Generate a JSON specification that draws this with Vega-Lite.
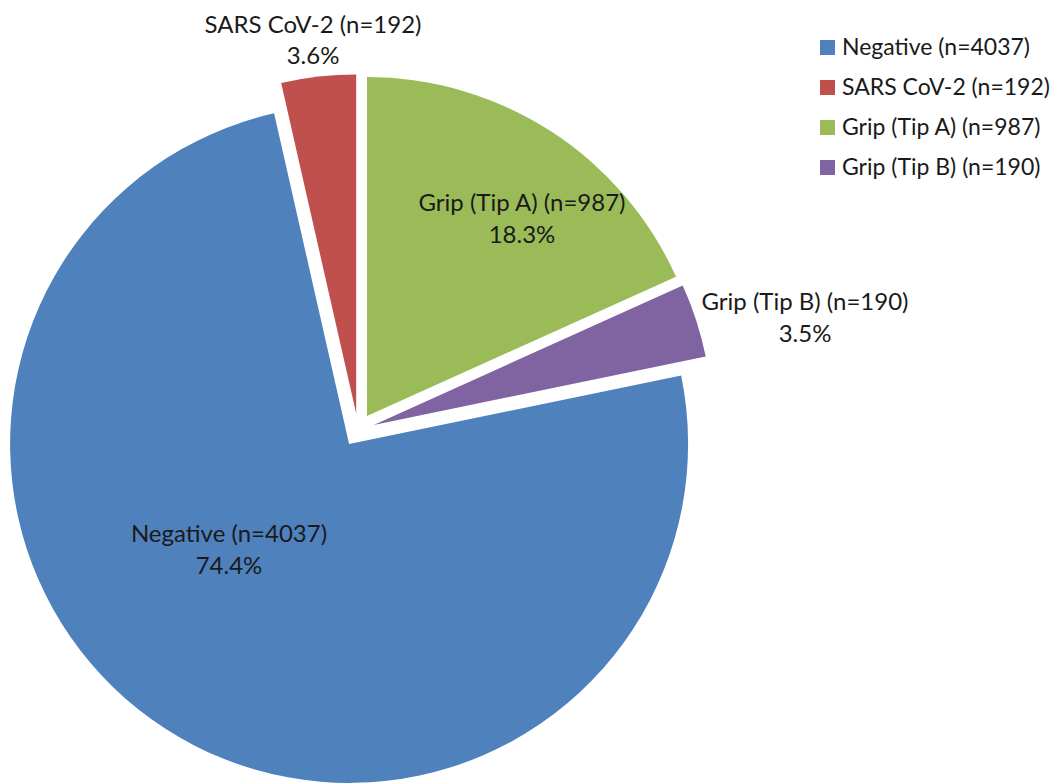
{
  "$schema": "https://vega.github.io/schema/vega-lite/v6.json",
  "width": 1060,
  "height": 783,
  "autosize": {"type": "fit", "contains": "padding"},
  "padding": 0,
  "background": "white",
  "config": {"view": {"stroke": null}, "font": "Lato"},
  "data": {
    "values": [
      {"cat": "Negative (n=4037)", "n": 4037, "lbl": "Negative (n=4037)\n74.4%"},
      {"cat": "SARS CoV-2 (n=192)", "n": 192, "lbl": "SARS CoV-2 (n=192)\n3.6%"},
      {"cat": "Grip (Tip A) (n=987)", "n": 987, "lbl": "Grip (Tip A) (n=987)\n18.3%"},
      {"cat": "Grip (Tip B) (n=190)", "n": 190, "lbl": "Grip (Tip B) (n=190)\n3.5%"}
    ]
  },
  "transform": [
    {"stack": "n", "groupby": [], "sort": [{"field": "cat", "order": "ascending"}], "as": ["t0", "t1"]}
  ],
  "encoding": {
    "theta": {"field": "t0", "type": "quantitative", "scale": {"domain": [0, 5406]}},
    "theta2": {"field": "t1"},
    "color": {
      "field": "cat",
      "type": "nominal",
      "scale": {
        "domain": ["Negative (n=4037)", "SARS CoV-2 (n=192)", "Grip (Tip A) (n=987)", "Grip (Tip B) (n=190)"],
        "range": ["#4F81BD", "#C0504D", "#9BBB59", "#8064A2"]
      },
      "legend": {
        "orient": "none",
        "legendX": 816,
        "legendY": 36,
        "title": null,
        "symbolType": "square",
        "symbolSize": 225,
        "symbolStrokeWidth": 0,
        "symbolOpacity": 1,
        "labelFontSize": 23,
        "labelFont": "Lato",
        "labelColor": "#1a1a1a",
        "rowPadding": 16,
        "labelOffset": 3,
        "padding": 0,
        "labelLimit": 400
      }
    }
  },
  "layer": [
    {
      "transform": [{"filter": "datum.cat == 'Negative (n=4037)'"}],
      "mark": {"type": "arc", "radius": 339, "xOffset": -180.9, "yOffset": 52.4}
    },
    {
      "transform": [{"filter": "datum.cat == 'SARS CoV-2 (n=192)'"}],
      "mark": {"type": "arc", "radius": 339, "xOffset": -173.8, "yOffset": 22.1}
    },
    {
      "transform": [{"filter": "datum.cat == 'Grip (Tip A) (n=987)'"}],
      "mark": {"type": "arc", "radius": 339, "xOffset": -163, "yOffset": 24.6}
    },
    {
      "transform": [{"filter": "datum.cat == 'Grip (Tip B) (n=190)'"}],
      "mark": {"type": "arc", "radius": 339, "xOffset": -156.3, "yOffset": 33.4}
    },
    {
      "transform": [{"filter": "datum.cat == 'Negative (n=4037)'"}],
      "mark": {"type": "text", "radius": 0, "xOffset": -301, "yOffset": 143.5, "fontSize": 24, "lineBreak": "\n", "lineHeight": 32, "align": "center", "baseline": "middle"},
      "encoding": {"text": {"field": "lbl"}, "color": {"value": "#1a1a1a"}}
    },
    {
      "transform": [{"filter": "datum.cat == 'SARS CoV-2 (n=192)'"}],
      "mark": {"type": "text", "radius": 0, "xOffset": -217, "yOffset": -365.5, "fontSize": 24, "lineBreak": "\n", "lineHeight": 31, "align": "center", "baseline": "middle"},
      "encoding": {"text": {"field": "lbl"}, "color": {"value": "#1a1a1a"}}
    },
    {
      "transform": [{"filter": "datum.cat == 'Grip (Tip A) (n=987)'"}],
      "mark": {"type": "text", "radius": 0, "xOffset": -8, "yOffset": -187.5, "fontSize": 24, "lineBreak": "\n", "lineHeight": 32, "align": "center", "baseline": "middle"},
      "encoding": {"text": {"field": "lbl"}, "color": {"value": "#1a1a1a"}}
    },
    {
      "transform": [{"filter": "datum.cat == 'Grip (Tip B) (n=190)'"}],
      "mark": {"type": "text", "radius": 0, "xOffset": 275, "yOffset": -88.5, "fontSize": 24, "lineBreak": "\n", "lineHeight": 32, "align": "center", "baseline": "middle"},
      "encoding": {"text": {"field": "lbl"}, "color": {"value": "#1a1a1a"}}
    }
  ]
}
